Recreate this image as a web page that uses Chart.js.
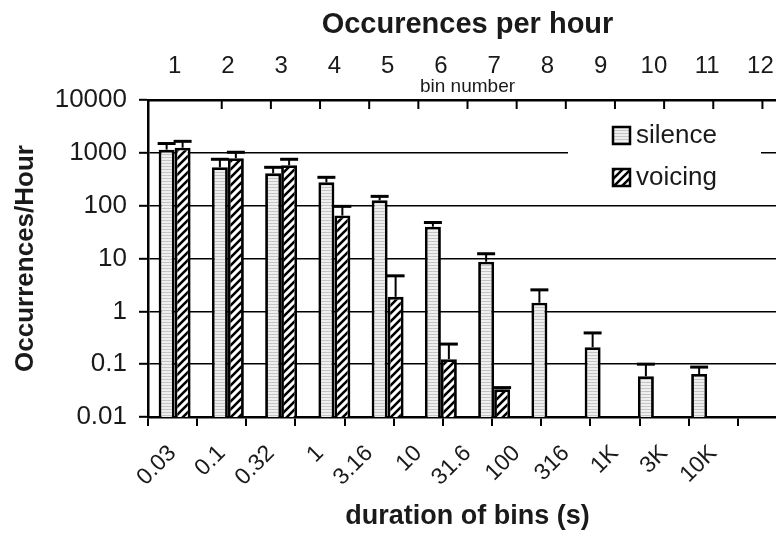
<!DOCTYPE html>
<html>
<head>
<meta charset="utf-8">
<script src="https://cdn.jsdelivr.net/npm/chart.js@4.4.1/dist/chart.umd.min.js"></script>
<style>
  html, body { margin: 0; padding: 0; background: #fff; overflow: hidden; width: 776px; height: 536px; }
  #wrap { width: 800px; height: 536px; }
</style>
</head>
<body>
<div id="wrap"><canvas id="chart" width="800" height="536"></canvas></div>
<script>
// bin numbers (top axis) and bin edges (bottom axis)
const binLabels = ["1", "2", "3", "4", "5", "6", "7", "8", "9", "10", "11", "12"];
const durationLabels = ["0.03", "0.1", "0.32", "1", "3.16", "10", "31.6", "100", "316", "1K", "3K", "10K"];
const yTicks = [0.01, 0.1, 1, 10, 100, 1000, 10000];
const yTickLabels = ["0.01", "0.1", "1", "10", "100", "1000", "10000"];

// occurrences per hour, with upper end of the error bar
const silence    = [1150, 532, 409, 276, 126, 40, 8.7, 1.45, 0.21, 0.059, 0.065, null];
const silenceErr = [1500, 755, 532, 344, 150, 48, 12.3, 2.55, 0.39, 0.1, 0.088, null];
const voicing    = [1250, 789, 581, 65, 1.88, 0.124, 0.0335, null, null, null, null, null];
const voicingErr = [1650, 1026, 755, 97, 4.7, 0.24, 0.036, null, null, null, null, null];

const FONT = "'Liberation Sans', Arial, sans-serif";
const INK = "#1a1a1a";

// fill patterns
function stripePattern() {
    const c = document.createElement("canvas");
    c.width = 4; c.height = 3;
    const g = c.getContext("2d");
    g.fillStyle = "#efefef"; g.fillRect(0, 0, 4, 3);
    g.fillStyle = "#c4c4c4"; g.fillRect(0, 1, 4, 1);
    return g.createPattern(c, "repeat");
}
function hatchPattern() {
    const c = document.createElement("canvas");
    c.width = 8; c.height = 8;
    const g = c.getContext("2d");
    g.fillStyle = "#fff"; g.fillRect(0, 0, 8, 8);
    g.strokeStyle = "#000"; g.lineWidth = 2.6;
    g.beginPath();
    g.moveTo(-2, 10); g.lineTo(10, -2);
    g.moveTo(-6, 6); g.lineTo(6, -6);
    g.moveTo(2, 14); g.lineTo(14, 2);
    g.stroke();
    return g.createPattern(c, "repeat");
}
const silenceFill = stripePattern();
const voicingFill = hatchPattern();

// upper error bars
const errorBars = {
    id: "errorBars",
    afterDatasetsDraw(chart) {
        const ctx = chart.ctx;
        const y = chart.scales.y;
        const errs = [silenceErr, voicingErr];
        ctx.save();
        ctx.strokeStyle = "#000";
        chart.data.datasets.forEach((ds, di) => {
            const meta = chart.getDatasetMeta(di);
            meta.data.forEach((bar, i) => {
                const top = errs[di][i];
                if (top == null || ds.data[i] == null) return;
                const py = y.getPixelForValue(top);
                ctx.lineWidth = 2;
                ctx.beginPath();
                ctx.moveTo(bar.x, bar.y);
                ctx.lineTo(bar.x, py);
                ctx.stroke();
                ctx.lineWidth = 3;
                ctx.beginPath();
                ctx.moveTo(bar.x - bar.width / 2 - 1, py);
                ctx.lineTo(bar.x + bar.width / 2 + 1, py);
                ctx.stroke();
            });
        });
        ctx.restore();
    }
};

// inward tick marks on the top axis, "bin number" caption, and legend box
const extras = {
    id: "extras",
    afterDraw(chart) {
        const ctx = chart.ctx;
        const a = chart.chartArea;
        const x2 = chart.scales.x2;
        ctx.save();
        ctx.strokeStyle = "#000";
        ctx.lineWidth = 2;
        for (let i = 1; i <= binLabels.length; i++) {
            const px = x2.getPixelForValue(i);
            ctx.beginPath();
            ctx.moveTo(px, a.top);
            ctx.lineTo(px, a.top + 9);
            ctx.stroke();
        }
        ctx.fillStyle = INK;
        ctx.font = "19px " + FONT;
        ctx.textAlign = "center";
        ctx.textBaseline = "middle";
        ctx.fillText("bin number", (a.left + a.right) / 2, 87);

        // legend
        ctx.fillStyle = "#fff";
        ctx.fillRect(568, 112, 193, 88);
        const items = [
            { label: chart.data.datasets[0].label, fill: silenceFill, y: 135 },
            { label: chart.data.datasets[1].label, fill: voicingFill, y: 177 }
        ];
        items.forEach(it => {
            ctx.fillStyle = it.fill;
            ctx.fillRect(613, it.y - 8, 17, 17);
            ctx.lineWidth = 2.5;
            ctx.strokeStyle = "#000";
            ctx.strokeRect(613, it.y - 8, 17, 17);
            ctx.fillStyle = INK;
            ctx.font = "26px " + FONT;
            ctx.textAlign = "left";
            ctx.fillText(it.label, 636, it.y + 1);
        });
        ctx.restore();
    }
};

new Chart(document.getElementById("chart"), {
    type: "bar",
    data: {
        labels: binLabels,
        datasets: [
            { label: "silence", data: silence, backgroundColor: silenceFill, borderColor: "#000",
              borderWidth: 2.8, borderSkipped: "bottom", xAxisID: "x", yAxisID: "y" },
            { label: "voicing", data: voicing, backgroundColor: voicingFill, borderColor: "#000",
              borderWidth: 2.8, borderSkipped: "bottom", xAxisID: "x", yAxisID: "y" }
        ]
    },
    options: {
        responsive: false,
        animation: false,
        layout: { padding: { left: 0, right: 13, top: 0, bottom: 0 } },
        categoryPercentage: 0.6,
        barPercentage: 1.0,
        plugins: { legend: { display: false }, tooltip: { enabled: false } },
        scales: {
            x: {
                type: "category",
                position: "top",
                offset: true,
                grid: { display: false, drawTicks: false },
                border: { display: true, color: "#000", width: 2.5 },
                ticks: { color: INK, font: { family: FONT, size: 24 }, padding: 19, maxRotation: 0 },
                title: { display: true, text: "Occurences per hour", color: INK,
                         font: { family: FONT, size: 29, weight: "bold" }, padding: { top: 8, bottom: 0 } },
                afterFit(s) { s.height = 100; }
            },
            x2: {
                type: "linear",
                position: "bottom",
                min: 0,
                max: 12,
                grid: { drawOnChartArea: false, color: "#000", lineWidth: 2, tickLength: 9 },
                border: { display: true, color: "#000", width: 2.5 },
                ticks: {
                    stepSize: 1,
                    autoSkip: false,
                    minRotation: 45,
                    maxRotation: 45,
                    labelOffset: 0,
                    padding: 14,
                    color: INK,
                    font: { family: FONT, size: 23 },
                    callback: v => durationLabels[v] ?? ""
                },
                title: { display: true, text: "duration of bins (s)", color: INK,
                         font: { family: FONT, size: 27, weight: "bold" }, padding: { top: 0, bottom: 3 } },
                afterFit(s) { s.height = 119; }
            },
            y: {
                type: "logarithmic",
                min: 0.01,
                max: 10000,
                grid: { color: "#000", lineWidth: 1.6, tickLength: 9, tickWidth: 2 },
                border: { display: true, color: "#000", width: 2.5 },
                ticks: {
                    color: INK,
                    padding: 12,
                    font: { family: FONT, size: 26 },
                    callback: v => yTickLabels[yTicks.indexOf(v)] ?? ""
                },
                afterBuildTicks(s) { s.ticks = yTicks.map(v => ({ value: v })); },
                title: { display: true, text: "Occurrences/Hour", color: INK,
                         font: { family: FONT, size: 26, weight: "bold" }, padding: { top: 10, bottom: 0 } },
                afterFit(s) { s.width = 148; }
            }
        }
    },
    plugins: [errorBars, extras]
});
</script>
</body>
</html>
